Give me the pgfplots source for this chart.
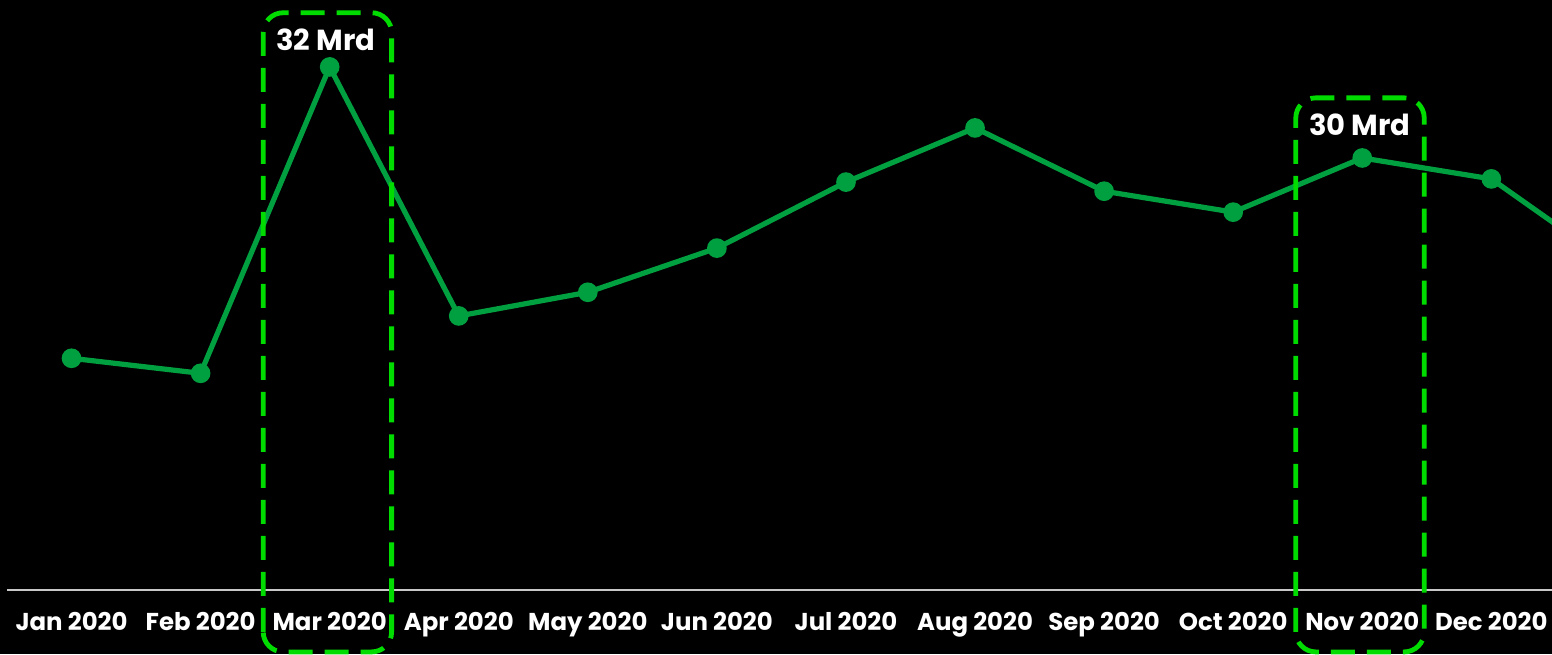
\documentclass[border=0pt]{standalone}
\usepackage{pgfplots}
\pgfplotsset{compat=1.18}
\usepackage{fontspec}
\setmainfont{Poppins}
\definecolor{linegreen}{RGB}{0,160,64}
\definecolor{boxgreen}{RGB}{0,220,0}
\definecolor{axisgray}{RGB}{200,200,200}
\begin{document}
\begin{tikzpicture}
\useasboundingbox (0,0) rectangle (776pt,327pt);
\fill[black] (0,0) rectangle (776pt,327pt);
\begin{axis}[
    at={(3.5pt,32pt)}, anchor=south west,
    scale only axis,
    width=772.5pt, height=295pt,
    xmin=-0.5, xmax=11.47,
    ymin=20.51, ymax=33.47,
    axis x line=bottom, axis y line=none,
    axis line style={axisgray, line width=1pt, -},
    xtick={0,...,11},
    xticklabels={Jan 2020,Feb 2020,Mar 2020,Apr 2020,May 2020,Jun 2020,Jul 2020,Aug 2020,Sep 2020,Oct 2020,Nov 2020,Dec 2020},
    major tick length=0pt,
    xticklabel style={text=white, font=\fontsize{12.2}{14}\selectfont\bfseries, yshift=-7.5pt},
    clip mode=individual,
]
\addplot[linegreen, line width=2.6pt, mark=*, mark size=3.6pt, mark options={fill=linegreen, draw=linegreen}]
coordinates {
    (0,25.60) (1,25.27) (2,32.00) (3,26.53) (4,27.05) (5,28.02)
    (6,29.47) (7,30.66) (8,29.27) (9,28.81) (10,30.00) (11,29.54) (12,27.54)
};
\draw[boxgreen, line width=2.4pt, dash pattern=on 12pt off 6pt, rounded corners=10pt]
    (axis cs:1.485,19.15) rectangle (axis cs:2.48,33.19);
\draw[boxgreen, line width=2.4pt, dash pattern=on 12pt off 6pt, rounded corners=10pt]
    (axis cs:9.485,19.15) rectangle (axis cs:10.48,31.32);
\node[text=white, font=\fontsize{14.5}{17}\selectfont\bfseries] at (axis cs:1.97,32.59) {32 Mrd};
\node[text=white, font=\fontsize{14.5}{17}\selectfont\bfseries] at (axis cs:9.98,30.73) {30 Mrd};
\end{axis}
\end{tikzpicture}
\end{document}
